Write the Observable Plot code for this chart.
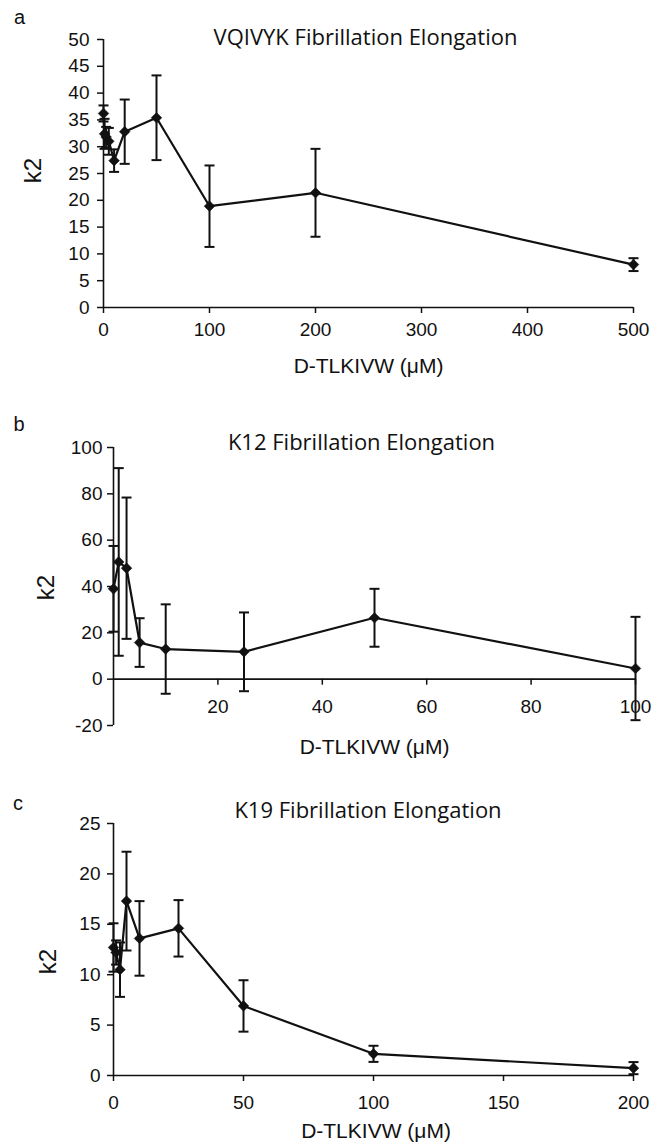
<!DOCTYPE html>
<html><head><meta charset="utf-8">
<script src="https://cdn.jsdelivr.net/npm/d3@7"></script>
<script src="https://cdn.jsdelivr.net/npm/@observablehq/plot@0.6"></script>
<style>
body{margin:0;background:#fff;}
#chart{width:657px;}
#chart svg{display:block;}
</style></head><body><div id="chart"></div>
<script>
// ---------- data ----------
const panelLetters = ["a", "b", "c"];
const titles = ["VQIVYK Fibrillation Elongation", "K12 Fibrillation Elongation", "K19 Fibrillation Elongation"];
const xLabel = "D-TLKIVW (\u03bcM)";
const yLabel = "k2";

// a: VQIVYK
const concA = [0, 1, 2.5, 5, 10, 20, 50, 100, 200, 500];
const k2A   = [36.2, 32.4, 31.8, 31.0, 27.4, 32.8, 35.4, 18.9, 21.4, 8.0];
const errA  = [1.5, 2.8, 1.9, 2.5, 2.1, 6.0, 7.9, 7.6, 8.2, 1.2];
const xTicksA = [0, 100, 200, 300, 400, 500];
const yTicksA = [0, 5, 10, 15, 20, 25, 30, 35, 40, 45, 50];

// b: K12
const concB = [0, 1, 2.5, 5, 10, 25, 50, 100];
const k2B   = [39.0, 50.6, 47.9, 15.8, 13.0, 11.8, 26.5, 4.6];
const errB  = [18.5, 40.5, 30.5, 10.5, 19.3, 17.0, 12.5, 22.3];
const xTicksB = [20, 40, 60, 80, 100];
const yTicksB = [-20, 0, 20, 40, 60, 80, 100];

// c: K19
const concC = [0, 1, 2.5, 5, 10, 25, 50, 100, 200];
const k2C   = [12.7, 12.2, 10.5, 17.3, 13.6, 14.6, 6.9, 2.15, 0.73];
const errC  = [2.4, 1.2, 2.7, 4.9, 3.7, 2.8, 2.55, 0.8, 0.6];
const xTicksC = [0, 50, 100, 150, 200];
const yTicksC = [0, 5, 10, 15, 20, 25];

// ---------- helpers ----------
const rows = (xs, ys, es) => xs.map((x, i) => ({x, y: ys[i], lo: ys[i] - es[i], hi: ys[i] + es[i]}));
const cap = {draw(ctx, size) { const w = Math.sqrt(size / Math.PI); ctx.moveTo(-w, 0); ctx.lineTo(w, 0); }};
const fmt = d => String(d);
const sansTick = "'Liberation Sans', Arial, Helvetica, sans-serif";
const sansTitle = "'Open Sans', 'Noto Sans', sans-serif";

function dataMarks(data) {
  return [
    Plot.ruleX(data, {x: "x", y1: "lo", y2: "hi", stroke: "#111", strokeWidth: 2}),
    Plot.dot(data, {x: "x", y: "lo", symbol: cap, r: 5, stroke: "#111", strokeWidth: 2, fill: "none"}),
    Plot.dot(data, {x: "x", y: "hi", symbol: cap, r: 5, stroke: "#111", strokeWidth: 2, fill: "none"}),
    Plot.line(data, {x: "x", y: "y", stroke: "#111", strokeWidth: 2.2}),
    Plot.dot(data, {x: "x", y: "y", symbol: "diamond2", r: 4.8, fill: "#111", stroke: "#111", strokeWidth: 0.5})
  ];
}

function labelMarks(i, o) {
  return [
    Plot.text([panelLetters[i]], {frameAnchor: "top-left", text: d => d, dx: o.letter[0], dy: o.letter[1],
      textAnchor: "middle", lineAnchor: "middle", fontSize: 20, fontFamily: sansTick}),
    Plot.text([titles[i]], {frameAnchor: "top", text: d => d, dx: o.title[0], dy: o.title[1],
      textAnchor: "middle", lineAnchor: "middle", fontSize: 22, fontFamily: sansTitle}),
    Plot.text([yLabel], {frameAnchor: "left", text: d => d, dx: o.ylab[0], dy: o.ylab[1], rotate: -90,
      textAnchor: "middle", lineAnchor: "middle", fontSize: 24, fontFamily: sansTick}),
    Plot.text([xLabel], {frameAnchor: "bottom", text: d => d, dx: o.xlab[0], dy: o.xlab[1],
      textAnchor: "middle", lineAnchor: "middle", fontSize: 21, fontFamily: sansTick})
  ];
}

const baseStyle = {fontFamily: sansTick, fontSize: "19px", color: "#111", background: "white", overflow: "visible"};
const chart = document.getElementById("chart");

// ---------- panel a ----------
chart.appendChild(Plot.plot({
  width: 657, height: 383,
  marginLeft: 103, marginRight: 24, marginTop: 39, marginBottom: 76,
  style: baseStyle,
  x: {domain: [0, 500]},
  y: {domain: [0, 50]},
  marks: [
    Plot.axisY(yTicksA, {tickSize: 6, tickPadding: 8, tickFormat: fmt, label: null, strokeWidth: 1.5}),
    Plot.axisX(xTicksA, {tickSize: 6, tickPadding: 9, tickFormat: fmt, label: null, strokeWidth: 1.5}),
    Plot.ruleX([0], {strokeWidth: 1.6}),
    Plot.ruleY([0], {strokeWidth: 1.6}),
    ...dataMarks(rows(concA, k2A, errA)),
    ...labelMarks(0, {letter: [-84, -21.5], title: [-3, -1.5], ylab: [-70.5, -3], xlab: [0, 59]})
  ]
}));

// ---------- panel b ----------
chart.appendChild(Plot.plot({
  width: 657, height: 387,
  marginLeft: 113, marginRight: 22, marginTop: 64, marginBottom: 45,
  style: baseStyle,
  x: {domain: [0, 100], axis: null},
  y: {domain: [-20, 100]},
  marks: [
    Plot.axisY(yTicksB, {tickSize: 6, tickPadding: 5, tickFormat: fmt, label: null, strokeWidth: 1.5}),
    Plot.ruleX(xTicksB, {x: d => d, y1: 0, y2: 0, insetBottom: -6, strokeWidth: 1.5}),
    Plot.text(xTicksB, {x: d => d, y: 0, text: fmt, lineAnchor: "top", dy: 20, fontSize: 19}),
    Plot.ruleX([0], {strokeWidth: 1.6}),
    Plot.ruleY([0], {strokeWidth: 1.6}),
    ...dataMarks(rows(concB, k2B, errB)),
    ...labelMarks(1, {letter: [-94.5, -22.5], title: [-13, -4.5], ylab: [-67, 1], xlab: [0, 22]})
  ]
}));

// ---------- panel c ----------
chart.appendChild(Plot.plot({
  width: 657, height: 377,
  marginLeft: 113, marginRight: 24, marginTop: 53, marginBottom: 72,
  style: baseStyle,
  x: {domain: [0, 200]},
  y: {domain: [0, 25]},
  marks: [
    Plot.axisY(yTicksC, {tickSize: 6, tickPadding: 7, tickFormat: fmt, label: null, strokeWidth: 1.5}),
    Plot.axisX(xTicksC, {tickSize: 6, tickPadding: 14, tickFormat: fmt, label: null, strokeWidth: 1.5}),
    Plot.ruleX([0], {strokeWidth: 1.6}),
    Plot.ruleY([0], {strokeWidth: 1.6}),
    ...dataMarks(rows(concC, k2C, errC)),
    ...labelMarks(2, {letter: [-95.5, -20], title: [-5.5, -13], ylab: [-65, 12], xlab: [2.5, 56]})
  ]
}));
</script>
</body></html>
